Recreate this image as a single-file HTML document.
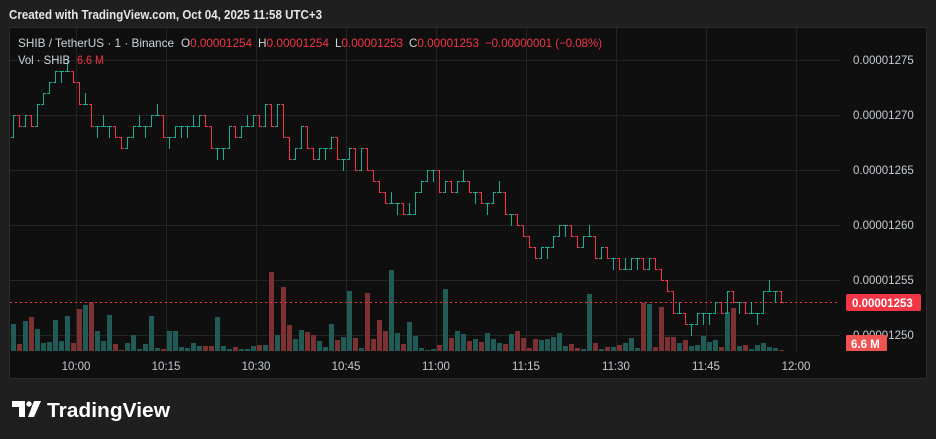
<!DOCTYPE html>
<html><head><meta charset="utf-8"><style>
html,body{margin:0;padding:0;background:#1f1f1f;width:936px;height:439px;overflow:hidden;font-family:"Liberation Sans",sans-serif}
#c{position:absolute;left:0;top:0}
</style></head><body>
<svg id="c" width="936" height="439" xmlns="http://www.w3.org/2000/svg" font-family="Liberation Sans, sans-serif">
<rect x="0" y="0" width="936" height="439" fill="#1f1f1f"/>
<text x="9" y="19" fill="#e6e6e6" font-size="12.5" font-weight="bold" textLength="313" lengthAdjust="spacingAndGlyphs">Created with TradingView.com, Oct 04, 2025 11:58 UTC+3</text>
<rect x="9.5" y="27.5" width="917" height="351" fill="#0f0f0f" stroke="#2b2b2b"/>
<g id="grid" stroke="#242424" stroke-width="1"></g>
<g id="vol"></g>
<line x1="10" y1="302.5" x2="840" y2="302.5" stroke="#f23645" stroke-width="1" stroke-dasharray="2,3"/>
<g id="bars" shape-rendering="crispEdges"></g>
<g font-size="12" fill="#d1d4dc">
<text x="18" y="47" textLength="156" lengthAdjust="spacingAndGlyphs">SHIB / TetherUS · 1 · Binance</text>
<text x="181" y="47" textLength="71" lengthAdjust="spacingAndGlyphs">O<tspan fill="#f23645">0.00001254</tspan></text>
<text x="258" y="47" textLength="71" lengthAdjust="spacingAndGlyphs">H<tspan fill="#f23645">0.00001254</tspan></text>
<text x="335" y="47" textLength="68" lengthAdjust="spacingAndGlyphs">L<tspan fill="#f23645">0.00001253</tspan></text>
<text x="409" y="47" textLength="70" lengthAdjust="spacingAndGlyphs">C<tspan fill="#f23645">0.00001253</tspan></text>
<text x="485" y="47" fill="#f23645" textLength="117" lengthAdjust="spacingAndGlyphs">−0.00000001 (−0.08%)</text>
<text x="18" y="64" textLength="52" lengthAdjust="spacingAndGlyphs">Vol · SHIB</text>
<text x="77" y="64" fill="#f23645" textLength="27" lengthAdjust="spacingAndGlyphs">6.6 M</text>
</g>
<g font-size="11.5" fill="#c8cad0">
<text x="853" y="64">0.00001275</text>
<text x="853" y="119">0.00001270</text>
<text x="853" y="174">0.00001265</text>
<text x="853" y="229">0.00001260</text>
<text x="853" y="284">0.00001255</text>
<text x="853" y="339">0.00001250</text>
</g>
<rect x="846" y="294" width="75" height="17" rx="2" fill="#f23645"/>
<text x="852" y="307" font-size="11.5" font-weight="bold" fill="#fff">0.00001253</text>
<rect x="846" y="335" width="41" height="16" rx="1" fill="#f05350"/>
<text x="851" y="348" font-size="11.5" font-weight="bold" fill="#fff">6.6 M</text>
<g font-size="11.5" fill="#c8cad0" text-anchor="middle">
<text x="76" y="370">10:00</text><text x="166" y="370">10:15</text><text x="256" y="370">10:30</text>
<text x="346" y="370">10:45</text><text x="436" y="370">11:00</text><text x="526" y="370">11:15</text>
<text x="616" y="370">11:30</text><text x="706" y="370">11:45</text><text x="796" y="370">12:00</text>
</g>
<g transform="translate(12,401)">
<path d="M0 0h13v16h-6v-10h-7z" fill="#fff"/>
<circle cx="17" cy="3" r="2.7" fill="#fff"/>
<path d="M22 0h7l-7 16h-6z" fill="#fff"/>
<text x="35" y="16" font-size="20" font-weight="bold" fill="#fff" textLength="123" lengthAdjust="spacingAndGlyphs">TradingView</text>
</g>
</svg>
<script>
var NS="http://www.w3.org/2000/svg";
function el(p,t,a){var e=document.createElementNS(NS,t);for(var k in a)e.setAttribute(k,a[k]);p.appendChild(e);return e;}
var g=document.getElementById('grid');
[60,115,170,225,280,335].forEach(function(y){el(g,'line',{x1:10,x2:840,y1:y+.5,y2:y+.5});});
[76,166,256,346,436,526,616,706,796].forEach(function(x){el(g,'line',{x1:x+.5,x2:x+.5,y1:28,y2:352});});
var C=[20,19,20,19,21,22,23,24,24,24,23,21,21,19,19,19,19,18,17,18,19,19,19,20,20,18,18,19,19,19,19,20,19,17,17,17,19,18,19,19,20,19,21,19,21,18,16,17,19,17,16,17,17,18,16,16,17,15,17,15,14,13,12,12,12,11,11,
13,14,15,15,13,14,13,14,14,13,13,12,12,13,13,11,11,10,9,8,7,8,8,9,10,10,9,8,9,9,7,8,7,7,6,6,7,7,6,7,6,5,4,2,2,1,1,2,2,2,3,2,4,3,3,2,2,2,4,4,4,3];
var V2=[792,852,783,771,807,849,846,780,843,768,849,747,735,726,813,843,765,852,870,849,825,867,852,768,864,867,813,813,861,864,849,858,858,858,771,858,867,861,867,867,858,855,855,636,825,681,795,837,810,816,825,843,861,792,840,831,693,834,864,699,837,780,813,630,819,852];
var V3=[786,828,864,870,867,855,687,834,813,822,843,837,846,819,837,849,852,822,813,834,864,837,840,837,831,819,858,852,864,867,702,849,867,861,861,855,849,834,864,729,732,861,741,831,831,849,840,858,855,828,846,840,861,756,744,858,855,867,855,849,861,864,870];
var V=V2.concat(V3);
function Y(u){return 115+(20-u)*11;}
var b=document.getElementById('bars'),v=document.getElementById('vol');
var prev=18;
for(var i=0;i<C.length;i++){
 var x=13+i*6,o=prev,c=C[i],h=Math.max(o,c),l=Math.min(o,c);
 if(o==c){h=c+(i%3==0?1:0); l=c-(i%3==0?0:1);}
 var up=c>=o, col=up?'#22ab94':'#f23645';
 el(b,'rect',{x:x,y:Y(h),width:1,height:Y(l)-Y(h)+1,fill:col});
 el(b,'rect',{x:x-2,y:Y(o),width:2,height:1,fill:col});
 el(b,'rect',{x:x+1,y:Y(c),width:2,height:1,fill:col});
 if(i<V.length){var t=60+V[i]/3;el(v,'rect',{x:x-2,y:t,width:5,height:Math.max(351-t,1),fill:up?'#215b56':'#7c3232'});}
 prev=c;
}
</script>
</body></html>
